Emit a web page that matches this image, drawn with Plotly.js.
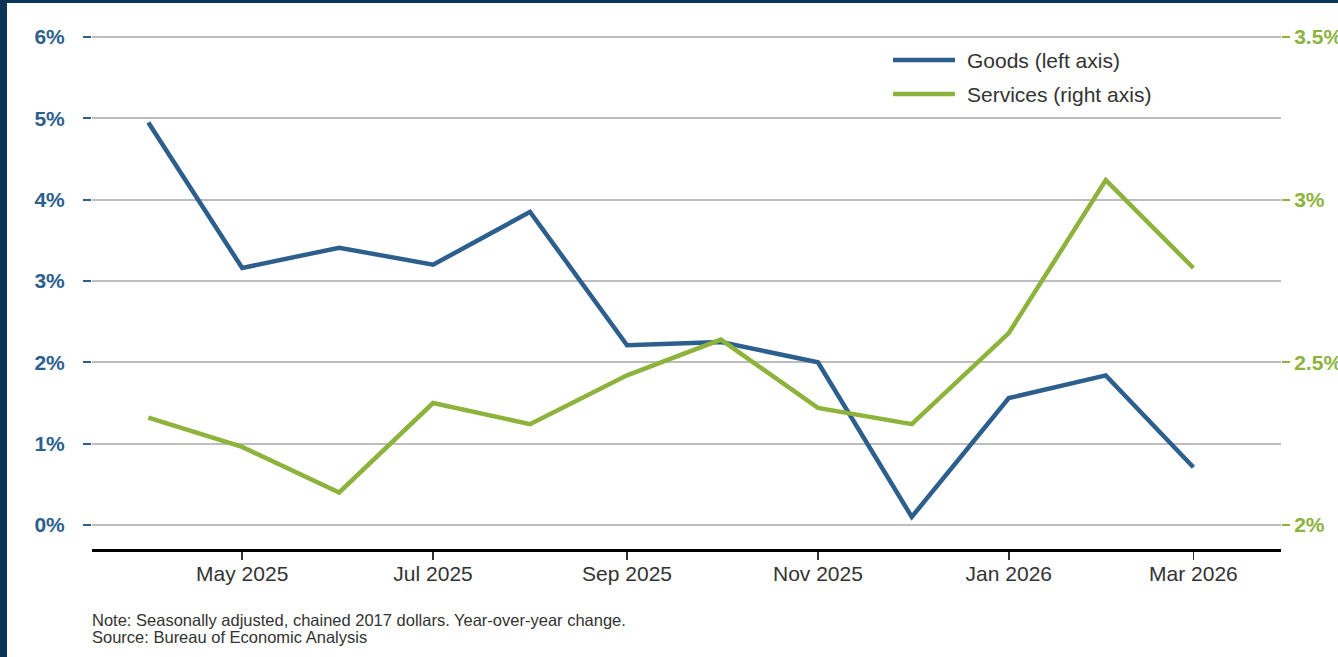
<!DOCTYPE html>
<html>
<head>
<meta charset="utf-8">
<script src="https://cdn.plot.ly/plotly-3.0.1.min.js"></script>
<style>
  html, body { margin: 0; padding: 0; background: #ffffff; }
  #wrap { position: relative; width: 1338px; height: 657px; overflow: hidden; }
  #chart { position: absolute; left: 0; top: 0; width: 1338px; height: 657px; }
  #bl { position: absolute; left: 0; top: 0; width: 7px; height: 657px; background: #0b3556; }
  #bt { position: absolute; left: 0; top: 0; width: 1338px; height: 3px; background: #0b3556; }
</style>
</head>
<body>
<div id="wrap">
  <div id="chart"></div>
  <div id="bl"></div>
  <div id="bt"></div>
</div>
<script>
// Months (first of month)
const months = ['2025-04-01','2025-05-01','2025-06-01','2025-07-01','2025-08-01','2025-09-01',
                '2025-10-01','2025-11-01','2025-12-01','2026-01-01','2026-02-01','2026-03-01'];
// Goods, year-over-year % change (left axis)
const goods = [4.95, 3.16, 3.41, 3.20, 3.85, 2.21, 2.25, 2.00, 0.10, 1.56, 1.84, 0.71];
// Services, year-over-year % change (right axis)
const services = [2.33, 2.24, 2.10, 2.375, 2.31, 2.46, 2.57, 2.36, 2.31, 2.59, 3.06, 2.79];

const seriesNames = ['Goods (left axis)', 'Services (right axis)'];
const noteLines = ['Note: Seasonally adjusted, chained 2017 dollars. Year-over-year change.',
                   'Source: Bureau of Economic Analysis'];

const blue = '#2d5f8e';
const green = '#8db33d';
const FONT = 'Liberation Sans, Arial, sans-serif';

const traces = [
  { x: months, y: goods, type: 'scatter', mode: 'lines', name: seriesNames[0],
    line: { color: blue, width: 4.5 }, yaxis: 'y', showlegend: false, hoverinfo: 'skip' },
  { x: months, y: services, type: 'scatter', mode: 'lines', name: seriesNames[1],
    line: { color: green, width: 4.5 }, yaxis: 'y2', showlegend: false, hoverinfo: 'skip' }
];

// plot area: y from 35 (top) to 549 (bottom), height 514
const legY = [(549 - 60) / 514, (549 - 94) / 514];
const legendShapes = [0, 1].map(i => ({
  type: 'line', xref: 'paper', yref: 'paper', x0: 0.6737, x1: 0.7258, y0: legY[i], y1: legY[i],
  line: { color: i === 0 ? blue : green, width: 4.5 }
}));
const legendAnn = [0, 1].map(i => ({
  xref: 'paper', yref: 'paper', x: 0.7345, y: legY[i], xanchor: 'left', yanchor: 'middle',
  text: seriesNames[i], showarrow: false, font: { family: FONT, size: 21, color: '#333333' }
}));
const noteY = [(549 - 620) / 514, (549 - 637) / 514];
const noteAnn = noteLines.map((t, i) => ({
  xref: 'paper', yref: 'paper', x: -0.002, y: noteY[i], xanchor: 'left', yanchor: 'middle',
  text: t, showarrow: false, font: { family: FONT, size: 16.5, color: '#333333' }
}));

const layout = {
  width: 1338, height: 657,
  margin: { l: 92, r: 57, t: 35, b: 108, pad: 0 },
  paper_bgcolor: '#ffffff', plot_bgcolor: '#ffffff',
  font: { family: FONT },
  xaxis: {
    type: 'date',
    range: ['2025-03-14', '2026-03-29'],
    tick0: '2025-05-01', dtick: 'M2', tickformat: '%b %Y',
    showgrid: false, zeroline: false,
    showline: true, linecolor: '#000000', linewidth: 3,
    ticks: 'outside', ticklen: 8, tickwidth: 1.5, tickcolor: '#333333',
    tickfont: { family: FONT, size: 21, color: '#333333' },
    ticklabelstandoff: -4
  },
  yaxis: {
    range: [-0.295, 6.025], tick0: 0, dtick: 1, ticksuffix: '%',
    showgrid: true, gridcolor: '#bdbdbd', gridwidth: 2,
    zeroline: false, showline: false,
    ticks: 'outside', ticklen: 8, tickwidth: 2, tickcolor: blue,
    tickfont: { family: FONT, size: 21, color: blue, weight: 'bold' },
    ticklabelstandoff: 14
  },
  yaxis2: {
    overlaying: 'y', side: 'right',
    range: [1.9262, 3.5062], tick0: 2, dtick: 0.5, ticksuffix: '%',
    showgrid: false, zeroline: false, showline: false,
    ticks: 'outside', ticklen: 8, tickwidth: 2, tickcolor: green,
    tickfont: { family: FONT, size: 21, color: green, weight: 'bold' },
    ticklabelstandoff: 0
  },
  shapes: legendShapes,
  annotations: legendAnn.concat(noteAnn),
  showlegend: false
};

Plotly.newPlot('chart', traces, layout, { displayModeBar: false, staticPlot: true });
</script>
</body>
</html>
